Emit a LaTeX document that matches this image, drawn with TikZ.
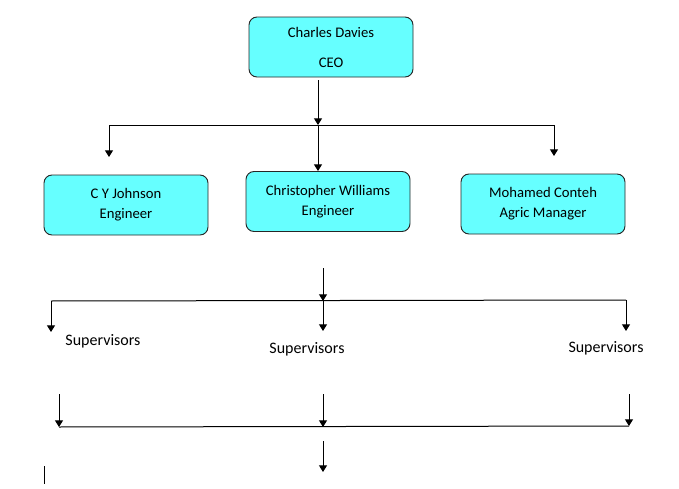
\documentclass[tikz,border=0pt]{standalone}
\usepackage{fontspec}
\setmainfont{Carlito}
\usetikzlibrary{arrows.meta}
\definecolor{boxcyan}{HTML}{66FFFF}

\begin{document}
\begin{tikzpicture}[x=0.75pt,y=-0.75pt,
  post/.style={draw=black!85, fill=boxcyan, rounded corners=6pt, line width=0.7pt,
    minimum width=123pt, minimum height=45pt, inner sep=0pt, align=center,
    font={\fontsize{11}{15}\selectfont}},
  lbl/.style={inner sep=0pt, font={\fontsize{12}{14}\selectfont}},
  arr/.style={-{Triangle[length=5pt,width=6pt]}, line width=0.75pt},
  bar/.style={line width=0.75pt}]
\useasboundingbox (0,0) rectangle (679,489);
% boxes
\node[post] (ceo) at (331,47) {Charles Davies\\[7.5pt]CEO};
\node[post] (cyj) at (126,205) {C Y Johnson\\Engineer};
\node[post] (cw) at (328,201.5) {Christopher Williams\\Engineer};
\node[post] (mc) at (543,204) {Mohamed Conteh\\Agric Manager};
% supervisors
\node[lbl] (s1) at (103,341) {Supervisors};
\node[lbl] (s2) at (307,349) {Supervisors};
\node[lbl] (s3) at (606,348) {Supervisors};
% top branch
\coordinate (t0) at (318,80);
\coordinate (t1) at (318,125);
\coordinate (tl) at (109,125);
\coordinate (tr) at (554,125);
\coordinate (tla) at (109,157);
\coordinate (tra) at (554,156);
\draw[arr] (t0) -- (t1);
\draw[bar] (tl) -- (tr);
\draw[arr] (tl) -- (tla);
\draw[arr] (tr) -- (tra);
\draw[arr] (t1) -- (cw.north -| t1);
% middle branch
\coordinate (m0) at (323,268);
\coordinate (m1) at (323,301);
\coordinate (ml) at (51,301);
\coordinate (mr) at (626,300);
\draw[arr] (m0) -- (m1);
\draw[bar] (ml) -- (mr);
\draw[arr] (ml) -- (51,332);
\draw[arr] (m1) -- (323,331);
\draw[arr] (mr) -- (626,331);
% lower branch
\coordinate (bl) at (59,427);
\coordinate (bm) at (323,427);
\coordinate (br) at (629,426);
\draw[arr] (59,394) -- (bl);
\draw[arr] (323,394) -- (bm);
\draw[arr] (629,394) -- (br);
\draw[bar] (bl) -- (br);
\draw[arr] (323,441) -- (323,472);
\draw[bar] (44,466) -- (44,484);
\end{tikzpicture}
\end{document}
